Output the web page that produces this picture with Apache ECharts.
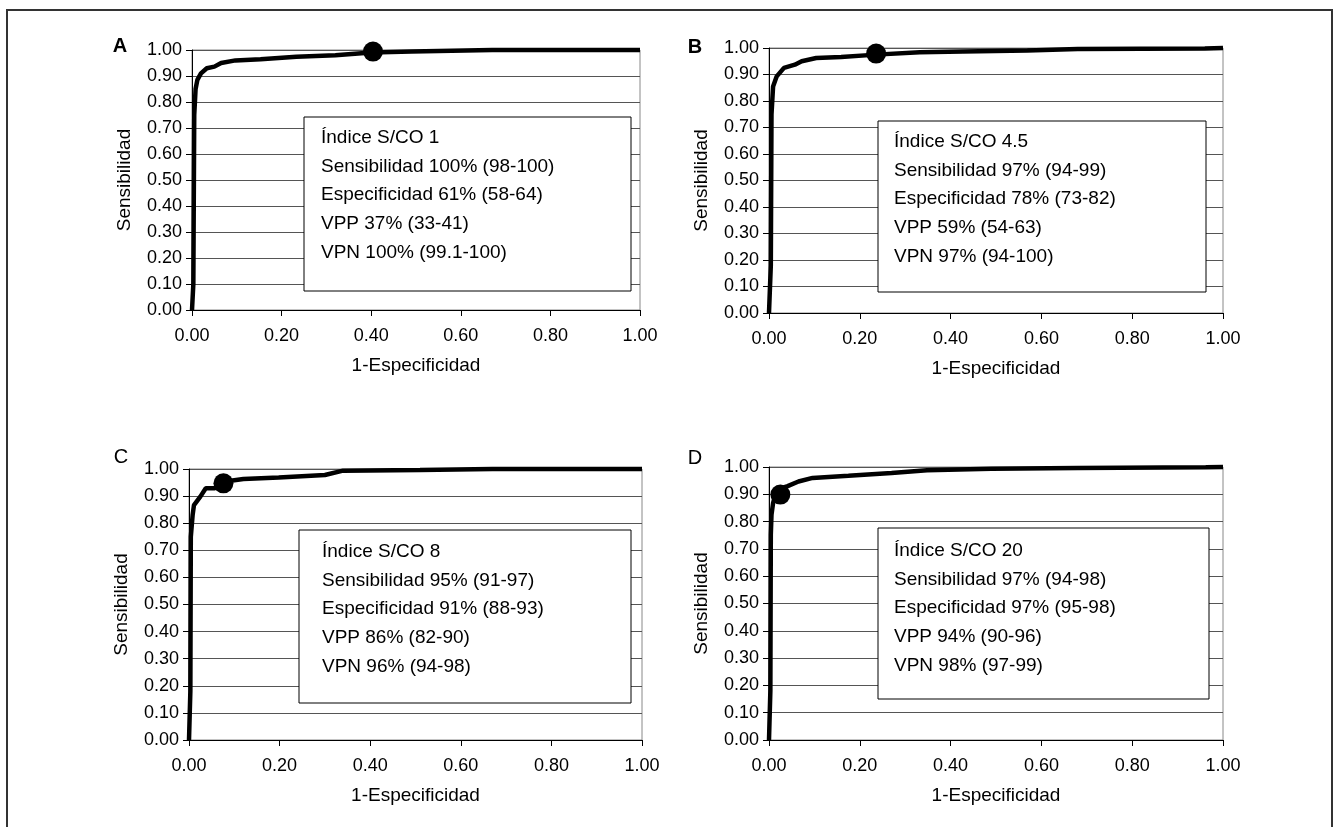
<!DOCTYPE html>
<html>
<head>
<meta charset="utf-8">
<title>Curvas ROC - Índice S/CO</title>
<script src="https://cdn.jsdelivr.net/npm/echarts@6/dist/echarts.min.js"></script>
<style>
    html, body { margin: 0; padding: 0; background: #fff; }
    #myChart { width: 1333px; height: 827px; }
</style>
</head>
<body>
<div id="myChart"></div>
<script>
    // ---- data ----
    // Panel A (S/CO 1)
    const fprA = [0, 0.003, 0.005, 0.008, 0.012, 0.02, 0.033, 0.05, 0.065, 0.097, 0.153, 0.233, 0.32, 0.40, 0.49, 0.67, 1.0];
    const tprA = [0, 0.10, 0.75, 0.85, 0.885, 0.91, 0.93, 0.936, 0.95, 0.96, 0.964, 0.974, 0.98, 0.99, 0.994, 1.0, 1.0];
    const cutA = [0.404, 0.994];
    // Panel B (S/CO 4.5)
    const fprB = [0, 0.004, 0.0055, 0.009, 0.017, 0.033, 0.057, 0.072, 0.104, 0.159, 0.236, 0.332, 0.427, 0.569, 0.68, 0.96, 1.0];
    const tprB = [0, 0.18, 0.75, 0.855, 0.893, 0.925, 0.937, 0.95, 0.962, 0.966, 0.975, 0.984, 0.987, 0.991, 0.996, 0.998, 1.0];
    const cutB = [0.236, 0.979];
    // Panel C (S/CO 8)
    const fprC = [0, 0.003, 0.004, 0.008, 0.011, 0.025, 0.037, 0.057, 0.076, 0.12, 0.198, 0.30, 0.34, 0.51, 0.67, 0.96, 1.0];
    const tprC = [0, 0.18, 0.75, 0.83, 0.867, 0.898, 0.929, 0.929, 0.953, 0.963, 0.969, 0.978, 0.994, 0.996, 1.0, 1.0, 1.0];
    const cutC = [0.076, 0.947];
    // Panel D (S/CO 20)
    const fprD = [0, 0.003, 0.004, 0.0055, 0.009, 0.017, 0.041, 0.065, 0.096, 0.175, 0.27, 0.348, 0.49, 0.68, 0.962, 1.0];
    const tprD = [0, 0.18, 0.752, 0.825, 0.868, 0.917, 0.93, 0.947, 0.96, 0.968, 0.978, 0.988, 0.994, 0.996, 0.999, 1.0];
    const cutD = [0.025, 0.899];

    const panelLetters = ['A', 'B', 'C', 'D'];
    const textA = ['Índice S/CO 1', 'Sensibilidad 100% (98-100)', 'Especificidad 61% (58-64)', 'VPP 37% (33-41)', 'VPN 100% (99.1-100)'];
    const textB = ['Índice S/CO 4.5', 'Sensibilidad 97% (94-99)', 'Especificidad 78% (73-82)', 'VPP 59% (54-63)', 'VPN 97% (94-100)'];
    const textC = ['Índice S/CO 8', 'Sensibilidad 95% (91-97)', 'Especificidad 91% (88-93)', 'VPP 86% (82-90)', 'VPN 96% (94-98)'];
    const textD = ['Índice S/CO 20', 'Sensibilidad 97% (94-98)', 'Especificidad 97% (95-98)', 'VPP 94% (90-96)', 'VPN 98% (97-99)'];

    const xTitle = '1-Especificidad';
    const yTitle = 'Sensibilidad';

    // ---- layout (pixels) ----
    const FONT = '"Liberation Sans", Arial, Helvetica, sans-serif';
    const grids = [
        {left: 192, top: 50, width: 448, height: 260},
        {left: 769, top: 48, width: 454, height: 265},
        {left: 189, top: 469, width: 453, height: 271},
        {left: 769, top: 467, width: 454, height: 273},
    ];
    const boxes = [
        {x: 304, y: 117, w: 327, h: 174, tx: 321, ty: 138},
        {x: 878, y: 121, w: 328, h: 171, tx: 894, ty: 142},
        {x: 299, y: 530, w: 332, h: 173, tx: 322, ty: 552},
        {x: 878, y: 528, w: 331, h: 171, tx: 894, ty: 551},
    ];
    const letterPos = [
        {x: 120, y: 46, bold: true},
        {x: 695, y: 47, bold: true},
        {x: 121, y: 457, bold: false},
        {x: 695, y: 458, bold: false},
    ];

    const curves = [[fprA, tprA], [fprB, tprB], [fprC, tprC], [fprD, tprD]];
    const cuts = [cutA, cutB, cutC, cutD];
    const texts = [textA, textB, textC, textD];

    let myChart = echarts.init(document.getElementById('myChart'));

    let xAxes = [], yAxes = [], series = [], graphics = [];

    grids.forEach((g, i) => {
        xAxes.push({
            gridIndex: i,
            type: 'value',
            min: 0, max: 1, interval: 0.2,
            name: xTitle,
            nameLocation: 'middle',
            nameGap: 46,
            nameTextStyle: {fontFamily: FONT, fontSize: 19, color: '#000'},
            axisLine: {show: true, lineStyle: {color: '#000', width: 1}},
            axisTick: {show: true, length: 6, lineStyle: {color: '#000'}},
            axisLabel: {fontFamily: FONT, fontSize: 18, color: '#000', margin: 17,
                formatter: v => v.toFixed(2)},
            splitLine: {show: false},
        });
        yAxes.push({
            gridIndex: i,
            type: 'value',
            min: 0, max: 1, interval: 0.1,
            name: yTitle,
            nameLocation: 'middle',
            nameGap: 58,
            nameTextStyle: {fontFamily: FONT, fontSize: 19, color: '#000'},
            axisLine: {show: true, lineStyle: {color: '#000', width: 1}},
            axisTick: {show: true, length: 6, lineStyle: {color: '#000'}},
            axisLabel: {fontFamily: FONT, fontSize: 18, color: '#000', margin: 10,
                formatter: v => v.toFixed(2)},
            splitLine: {show: true, lineStyle: {color: '#555', width: 1}},
        });
        const fpr = curves[i][0], tpr = curves[i][1];
        series.push({
            type: 'line',
            xAxisIndex: i, yAxisIndex: i,
            data: fpr.map((x, k) => [x, tpr[k]]),
            showSymbol: false,
            clip: false,
            lineStyle: {color: '#000', width: 4.5},
            z: 3,
        });
        series.push({
            type: 'scatter',
            xAxisIndex: i, yAxisIndex: i,
            data: [cuts[i]],
            symbolSize: 20,
            clip: false,
            itemStyle: {color: '#000', opacity: 1},
            z: 4,
        });

        // annotation box
        const b = boxes[i];
        graphics.push({
            type: 'rect',
            shape: {x: b.x, y: b.y, width: b.w, height: b.h},
            style: {fill: '#fff', stroke: '#000', lineWidth: 1},
            z: 10,
        });
        texts[i].forEach((line, k) => {
            graphics.push({
                type: 'text',
                x: b.tx, y: b.ty + k * 28.6,
                style: {text: line, font: '19px ' + FONT, fill: '#000', verticalAlign: 'middle'},
                z: 11,
            });
        });
        // panel letter
        const lp = letterPos[i];
        graphics.push({
            type: 'text',
            x: lp.x, y: lp.y,
            style: {text: panelLetters[i], font: (lp.bold ? 'bold ' : '') + '20px ' + FONT,
                fill: '#000', align: 'center', verticalAlign: 'middle'},
            z: 11,
        });
    });

    // outer frame (left, top, right)
    graphics.push({
        type: 'polyline',
        shape: {points: [[7, 830], [7, 10], [1332, 10], [1332, 830]]},
        style: {stroke: '#333', lineWidth: 2, fill: null},
        z: 1,
    });

    let option = {
        backgroundColor: '#fff',
        animation: false,
        grid: grids.map(g => Object.assign({show: true, borderColor: '#888', borderWidth: 1}, g)),
        xAxis: xAxes,
        yAxis: yAxes,
        series: series,
        graphic: graphics,
    };

    myChart.setOption(option);
</script>
</body>
</html>
